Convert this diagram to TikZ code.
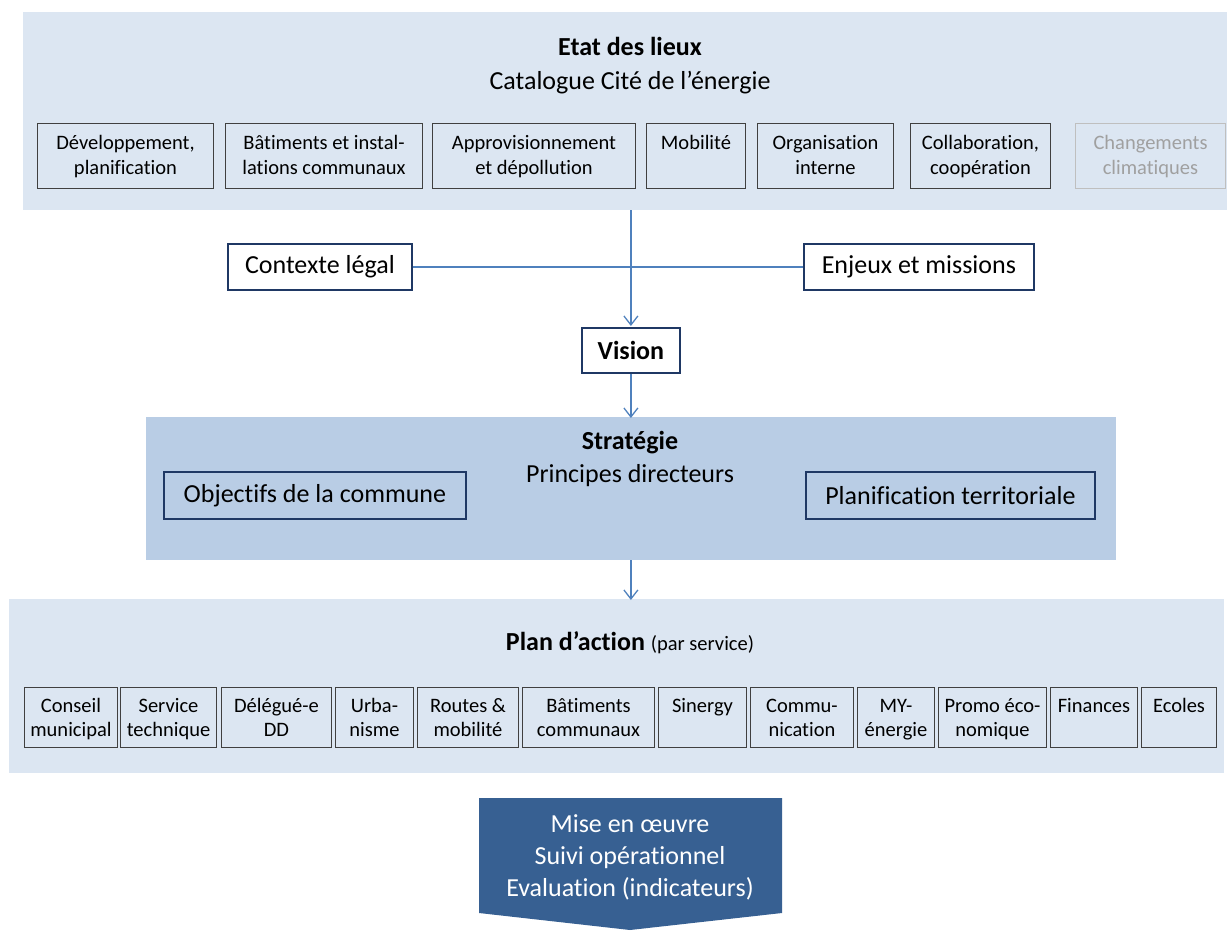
\documentclass[tikz,border=0pt]{standalone}
\usepackage{fontspec}
\setmainfont{Carlito}[Ligatures=CommonOff]
\usetikzlibrary{arrows.meta}
\definecolor{bandA}{HTML}{DCE6F2}
\definecolor{bandB}{HTML}{B9CDE5}
\definecolor{pent}{HTML}{376092}
\definecolor{lineblue}{HTML}{4F81BD}
\definecolor{navy}{HTML}{1F3864}
\definecolor{boxgray}{HTML}{404040}
\definecolor{lightgray}{HTML}{BFBFBF}
\definecolor{textgray}{HTML}{A0A0A0}
\def\tbs{26pt}
\newcommand\tbox[7]{\node[#1,anchor=north west,inner sep=0pt,minimum width=#5pt-#3pt,minimum height=#6pt-#4pt] (#2) at (#3,#4) {\begin{minipage}[t][\dimexpr#6pt-#4pt\relax][t]{\dimexpr#5pt-#3pt\relax}\centering\rule{0pt}{\tbs}#7\end{minipage}};}
\begin{document}
\begin{tikzpicture}[x=1pt,y=-1pt,
  band/.style={draw=none,anchor=north west,inner sep=0pt},
  sbox/.style={draw=boxgray,line width=1pt,font=\fontsize{20.5}{25}\selectfont},
  gbox/.style={draw=lightgray,line width=1pt,text=textgray,font=\fontsize{20.5}{25}\selectfont},
  bbox/.style={draw=boxgray,line width=1pt,font=\fontsize{20.5}{24}\selectfont},
  nbox/.style={draw=navy,line width=1.8pt,fill=white,inner sep=0pt,anchor=north west,font=\fontsize{26}{32}\selectfont},
  nboxb/.style={nbox,fill=none},
  title/.style={align=center,font=\fontsize{26}{33}\selectfont},
  conn/.style={draw=lineblue,line width=1.5pt},
  arr/.style={conn,-{Straight Barb[length=9pt,width=14pt,line width=1.3pt]}}
]
\useasboundingbox (0,0) rectangle (1227,930);
% bands
\node[band,fill=bandA,minimum width=1204pt,minimum height=198pt] (top) at (23,12) {};
\node[band,fill=bandB,minimum width=970pt,minimum height=143pt] (strat) at (146,417) {};
\node[band,fill=bandA,minimum width=1215pt,minimum height=174pt] (plan) at (9,599) {};
% titles
\node[title,font=\fontsize{26}{34}\selectfont] (ttop) at (630,66) {\textbf{Etat des lieux}\\Catalogue Cité de l’énergie};
\node[title] (tstrat) at (630,458.5) {\textbf{Stratégie}\\Principes directeurs};
\node[title] (tplan) at (630,643) {\textbf{Plan d’action} {\fontsize{20.5}{25}\selectfont(par service)}};
% top boxes
\tbox{sbox}{d1}{37}{123}{213}{188}{Développement,\\planification}
\tbox{sbox}{d2}{225}{123}{422}{188}{Bâtiments et instal-\\lations communaux}
\tbox{sbox}{d3}{432}{123}{635}{188}{Approvisionnement\\et dépollution}
\tbox{sbox}{d4}{646}{123}{745}{188}{Mobilité}
\tbox{sbox}{d5}{757}{123}{893}{188}{Organisation\\interne}
\tbox{sbox}{d6}{910}{123}{1050}{188}{Collaboration,\\coopération}
\tbox{gbox}{d7}{1075}{123}{1225}{188}{Changements\\climatiques}
% middle
\node[nbox,minimum width=184pt,minimum height=46pt] (ctx) at (227,243) {Contexte légal};
\node[nbox,minimum width=230pt,minimum height=46pt] (enj) at (803,243) {Enjeux et missions};
\node[nbox,minimum width=98pt,minimum height=45pt,font=\fontsize{26}{32}\selectfont\bfseries] (vision) at (581,327) {Vision};
\draw[conn] (ctx.east) -- (enj.west);
\draw[arr] (vision.north |- top.south) -- ([yshift=1pt]vision.north);
\draw[arr] (vision.south) -- ([yshift=-1pt]vision.south |- strat.north);
\node[nboxb,minimum width=302pt,minimum height=47pt] (obj) at (163,471) {Objectifs de la commune};
\node[nboxb,minimum width=289pt,minimum height=47pt] (terr) at (805,471) {Planification territoriale};
\draw[arr] (vision.south |- strat.south) -- ([yshift=-1pt]vision.south |- plan.north);
% bottom boxes
\def\tbs{25pt}
\tbox{bbox}{s1}{24}{687}{117}{747}{Conseil\\municipal}
\tbox{bbox}{s2}{120}{687}{216}{747}{Service\\technique}
\tbox{bbox}{s3}{221}{687}{331}{747}{Délégué-e\\DD}
\tbox{bbox}{s4}{335}{687}{413}{747}{Urba-\\nisme}
\tbox{bbox}{s5}{417}{687}{518}{747}{Routes \&\\mobilité}
\tbox{bbox}{s6}{522}{687}{654}{747}{Bâtiments\\communaux}
\tbox{bbox}{s7}{658}{687}{746}{747}{Sinergy}
\tbox{bbox}{s8}{750}{687}{853}{747}{Commu-\\nication}
\tbox{bbox}{s9}{857}{687}{934}{747}{MY-\\énergie}
\tbox{bbox}{s10}{938}{687}{1046}{747}{Promo éco-\\nomique}
\tbox{bbox}{s11}{1050}{687}{1137}{747}{Finances}
\tbox{bbox}{s12}{1141}{687}{1216}{747}{Ecoles}
% pentagon
\fill[pent] (479,798) -- (782,798) -- (782,913) -- (630,930) -- (479,913) -- cycle;
\node[title,text=white,font=\fontsize{26}{32}\selectfont] (mise) at (630,857) {Mise en œuvre\\Suivi opérationnel\\Evaluation (indicateurs)};
\end{tikzpicture}
\end{document}
